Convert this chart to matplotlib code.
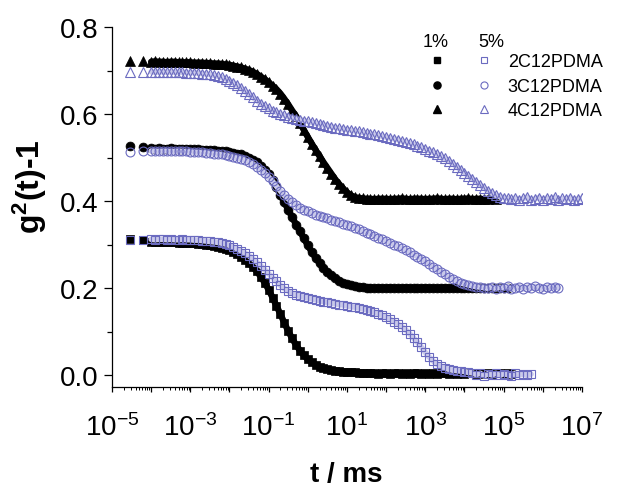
"""
DLS correlation functions g2(t)-1 for 2C12/3C12/4C12PDMA at 1% and 5%.
"""
import numpy as np
import matplotlib
matplotlib.use("Agg")
import matplotlib.pyplot as plt
from matplotlib.lines import Line2D
from matplotlib.ticker import LogLocator, FuncFormatter, MultipleLocator, NullFormatter

plt.rcParams['font.family'] = ['Liberation Sans', 'DejaVu Sans']
plt.rcParams['mathtext.fontset'] = 'custom'
plt.rcParams['mathtext.rm'] = 'Liberation Sans'
plt.rcParams['mathtext.bf'] = 'Liberation Sans:bold'
plt.rcParams['mathtext.it'] = 'Liberation Sans:italic'

# log10(t / ms) of the correlator channels, shared by all curves
LOG_T = [
    -4.54, -4.2,
    -4.0, -3.9, -3.8, -3.7, -3.6, -3.5, -3.4, -3.3, -3.2, -3.1,
    -3.0, -2.9, -2.8, -2.7, -2.6, -2.5, -2.4, -2.3, -2.2, -2.1,
    -2.0, -1.9, -1.8, -1.7, -1.6, -1.5, -1.4, -1.3, -1.2, -1.1,
    -1.0, -0.9, -0.8, -0.7, -0.6, -0.5, -0.4, -0.3, -0.2, -0.1,
    0.0, 0.1, 0.2, 0.3, 0.4, 0.5, 0.6, 0.7, 0.8, 0.9,
    1.0, 1.1, 1.2, 1.3, 1.4, 1.5, 1.6, 1.7, 1.8, 1.9,
    2.0, 2.1, 2.2, 2.3, 2.4, 2.5, 2.6, 2.7, 2.8, 2.9,
    3.0, 3.1, 3.2, 3.3, 3.4, 3.5, 3.6, 3.7, 3.8, 3.9,
    4.0, 4.1, 4.2, 4.3, 4.4, 4.5, 4.6, 4.7, 4.8, 4.9,
    5.0, 5.1, 5.2, 5.3, 5.4, 5.5, 5.6, 5.7, 5.8, 5.9,
    6.0, 6.1, 6.2, 6.3, 6.4, 6.5, 6.6, 6.7, 6.8, 6.9,
    7.0,
]

LABELS = ['2C12PDMA', '3C12PDMA', '4C12PDMA']

# 1 % samples (filled black)
G_2C12_1 = [
    0.313, 0.310,
    0.306, 0.305, 0.306, 0.305, 0.306, 0.305, 0.305, 0.304, 0.304, 0.304,
    0.303, 0.303, 0.302, 0.301, 0.300, 0.299, 0.297, 0.295, 0.293, 0.290,
    0.287, 0.283, 0.278, 0.272, 0.265, 0.257, 0.248, 0.238, 0.226, 0.212,
    0.196, 0.178, 0.159, 0.140, 0.120, 0.101, 0.084, 0.069, 0.056, 0.045,
    0.036, 0.029, 0.024, 0.019, 0.016, 0.013, 0.011, 0.010, 0.009, 0.008,
    0.007, 0.006, 0.006, 0.005, 0.005, 0.004, 0.004, 0.004, 0.003, 0.004,
    0.004, 0.003, 0.004, 0.004, 0.003, 0.004, 0.003, 0.004, 0.004, 0.003,
    0.004, 0.003, 0.004, 0.003, 0.004, 0.004, 0.003, 0.004, 0.003, 0.004,
    0.003, 0.004, 0.004, 0.003, 0.004, 0.003, 0.004, 0.003, 0.004, 0.004,
    0.003, 0.004, 0.003,
]
G_3C12_1 = [
    0.526, 0.525,
    0.521, 0.520, 0.521, 0.520, 0.520, 0.521, 0.520, 0.520, 0.519, 0.520,
    0.519, 0.519, 0.519, 0.518, 0.518, 0.517, 0.517, 0.516, 0.515, 0.514,
    0.513, 0.511, 0.509, 0.507, 0.504, 0.500, 0.495, 0.489, 0.481, 0.472,
    0.462, 0.448, 0.432, 0.414, 0.397, 0.380, 0.363, 0.346, 0.330, 0.314,
    0.298, 0.283, 0.269, 0.257, 0.246, 0.237, 0.229, 0.222, 0.217, 0.212,
    0.209, 0.206, 0.204, 0.203, 0.202, 0.201, 0.201, 0.200, 0.201, 0.200,
    0.200, 0.201, 0.200, 0.199, 0.200, 0.201, 0.200, 0.200, 0.199, 0.200,
    0.201, 0.200, 0.200, 0.199, 0.200, 0.201, 0.200, 0.200, 0.199, 0.200,
    0.200, 0.201, 0.200, 0.199, 0.200, 0.200, 0.201, 0.200, 0.199, 0.200,
    0.200, 0.201,
]
G_4C12_1 = [
    0.722, 0.721,
    0.720, 0.721, 0.720, 0.720, 0.719, 0.720, 0.720, 0.719, 0.719, 0.719,
    0.719, 0.718, 0.718, 0.718, 0.717, 0.717, 0.716, 0.716, 0.715, 0.714,
    0.713, 0.711, 0.709, 0.707, 0.704, 0.701, 0.697, 0.692, 0.686, 0.680,
    0.673, 0.665, 0.657, 0.647, 0.635, 0.622, 0.608, 0.595, 0.580, 0.563,
    0.547, 0.532, 0.517, 0.503, 0.489, 0.476, 0.463, 0.450, 0.439, 0.429,
    0.420, 0.413, 0.409, 0.407, 0.406, 0.405, 0.405, 0.404, 0.405, 0.405,
    0.405, 0.404, 0.405, 0.405, 0.406, 0.405, 0.404, 0.405, 0.405, 0.405,
    0.404, 0.405, 0.405, 0.406, 0.405, 0.404, 0.405, 0.405, 0.404, 0.405,
    0.405, 0.406, 0.404, 0.405, 0.405, 0.404, 0.405, 0.406, 0.405,
]

# 5 % samples (open, blue)
G_2C12_5 = [
    0.311, 0.311,
    0.312, 0.311, 0.312, 0.312, 0.311, 0.312, 0.311, 0.311, 0.312, 0.311,
    0.311, 0.310, 0.310, 0.309, 0.308, 0.307, 0.306, 0.305, 0.303, 0.301,
    0.298, 0.294, 0.290, 0.285, 0.280, 0.274, 0.267, 0.259, 0.251, 0.242,
    0.233, 0.224, 0.215, 0.206, 0.199, 0.193, 0.188, 0.184, 0.181, 0.179,
    0.177, 0.175, 0.173, 0.171, 0.169, 0.167, 0.165, 0.164, 0.162, 0.161,
    0.159, 0.157, 0.156, 0.154, 0.152, 0.150, 0.147, 0.144, 0.141, 0.137,
    0.133, 0.128, 0.123, 0.117, 0.111, 0.104, 0.095, 0.085, 0.075, 0.064,
    0.052, 0.041, 0.032, 0.025, 0.020, 0.016, 0.013, 0.011, 0.010, 0.009,
    0.008, 0.006, 0.005, 0.001, 0.004, -0.002, 0.003, 0.000, 0.004, -0.001,
    0.003, 0.001, -0.002, 0.004, 0.000, 0.003, -0.001, 0.002,
]
G_3C12_5 = [
    0.513, 0.514,
    0.515, 0.515, 0.514, 0.515, 0.515, 0.514, 0.514, 0.515, 0.514, 0.514,
    0.513, 0.513, 0.512, 0.512, 0.511, 0.510, 0.509, 0.508, 0.507, 0.505,
    0.503, 0.501, 0.499, 0.497, 0.494, 0.490, 0.485, 0.479, 0.472, 0.464,
    0.455, 0.445, 0.434, 0.423, 0.413, 0.405, 0.398, 0.391, 0.385, 0.380,
    0.376, 0.372, 0.369, 0.366, 0.363, 0.360, 0.357, 0.354, 0.351, 0.348,
    0.345, 0.342, 0.339, 0.335, 0.331, 0.327, 0.324, 0.320, 0.316, 0.312,
    0.308, 0.304, 0.300, 0.296, 0.291, 0.287, 0.282, 0.277, 0.272, 0.267,
    0.261, 0.255, 0.249, 0.243, 0.237, 0.232, 0.226, 0.221, 0.216, 0.212,
    0.209, 0.207, 0.205, 0.203, 0.202, 0.201, 0.199, 0.203, 0.198, 0.202,
    0.200, 0.204, 0.197, 0.201, 0.203, 0.198, 0.202, 0.199, 0.204, 0.200,
    0.197, 0.202, 0.199, 0.203, 0.200,
]
G_4C12_5 = [
    0.697, 0.697,
    0.697, 0.696, 0.697, 0.697, 0.696, 0.697, 0.696, 0.696, 0.696, 0.695,
    0.695, 0.695, 0.694, 0.693, 0.692, 0.691, 0.689, 0.687, 0.684, 0.681,
    0.677, 0.672, 0.666, 0.659, 0.652, 0.645, 0.638, 0.631, 0.624, 0.618,
    0.613, 0.608, 0.604, 0.600, 0.597, 0.594, 0.591, 0.589, 0.587, 0.585,
    0.583, 0.581, 0.579, 0.577, 0.575, 0.573, 0.571, 0.569, 0.567, 0.566,
    0.564, 0.563, 0.561, 0.560, 0.558, 0.556, 0.554, 0.553, 0.551, 0.549,
    0.547, 0.545, 0.543, 0.541, 0.538, 0.536, 0.533, 0.530, 0.527, 0.524,
    0.520, 0.516, 0.512, 0.508, 0.503, 0.498, 0.492, 0.486, 0.479, 0.472,
    0.465, 0.458, 0.451, 0.444, 0.437, 0.430, 0.424, 0.418, 0.413, 0.410,
    0.408, 0.406, 0.404, 0.407, 0.403, 0.406, 0.409, 0.402, 0.405, 0.408,
    0.403, 0.407, 0.404, 0.409, 0.402, 0.406, 0.404, 0.408, 0.403, 0.405,
    0.406,
]

BLUE = '#6b6bc0'
BAND = '#c9c9ea'
MARKERS = ['s', 'o', '^']
SIZES = [5.6, 6.4, 6.6]


def t_for(g):
    return 10 ** np.array(LOG_T[:len(g)])


def odd_decades(x, pos):
    e = int(round(np.log10(x)))
    if e % 2 == 0:
        return ''
    return r'$\mathdefault{10^{%d}}$' % e


def main():
    fig = plt.figure(figsize=(6.38, 4.89), dpi=100)
    ax = fig.add_axes([0.1755, 0.2065, 0.7367, 0.7362])

    ones = [G_2C12_1, G_3C12_1, G_4C12_1]
    fives = [G_2C12_5, G_3C12_5, G_4C12_5]

    # the correlator channels are so dense that each curve reads as a band
    for g, m, s in zip(ones, MARKERS, SIZES):
        t = t_for(g)
        ax.plot(t[2:], g[2:], color='black', lw=4.6, solid_capstyle='round', zorder=2)
        ax.plot(t, g, ls='none', marker=m, ms=s, color='black', mec='black', mew=0.5, zorder=2)
    for g, m, s in zip(fives, MARKERS, SIZES):
        t = t_for(g)
        ax.plot(t[2:], g[2:], color=BAND, lw=4.0, solid_capstyle='round', zorder=3)
        ax.plot(t, g, ls='none', marker=m, ms=s, mfc='none', mec=BLUE, mew=0.8, zorder=3)

    ax.set_xscale('log')
    ax.set_xlim(1e-5, 1e7)
    ax.set_ylim(-0.0276, 0.8)

    ax.xaxis.set_major_locator(LogLocator(base=10, numticks=20))
    ax.xaxis.set_minor_locator(LogLocator(base=10, subs=np.arange(2, 10), numticks=200))
    ax.xaxis.set_major_formatter(FuncFormatter(odd_decades))
    ax.xaxis.set_minor_formatter(NullFormatter())
    ax.yaxis.set_major_locator(MultipleLocator(0.2))
    ax.yaxis.set_minor_locator(MultipleLocator(0.1))
    ax.yaxis.set_major_formatter(FuncFormatter(lambda v, p: '%.1f' % v))

    for side in ['top', 'right']:
        ax.spines[side].set_visible(False)
    for side in ['left', 'bottom']:
        ax.spines[side].set_linewidth(0.9)

    ax.tick_params(axis='y', which='major', direction='out', length=6, width=0.9,
                   labelsize=20, pad=4)
    ax.tick_params(axis='y', which='minor', direction='out', length=3.5, width=0.9)
    ax.tick_params(axis='x', which='major', direction='out', length=3.5, width=0.9,
                   labelsize=20, pad=15)
    ax.tick_params(axis='x', which='minor', direction='out', length=2, width=0.7)

    ax.set_xlabel('t / ms', fontsize=20, fontweight='bold')
    ax.set_ylabel(r'g$^\mathbf{2}$(t)-1', fontsize=23, fontweight='bold')
    ax.xaxis.set_label_coords(0.498, -0.205)
    ax.yaxis.set_label_coords(-0.135, 0.56)

    # legend: black (1%) column without text, blue (5%) column with names
    handles = [Line2D([], [], ls='none', marker=m, ms=s * 0.8, color='black')
               for m, s in zip(MARKERS, SIZES)]
    handles += [Line2D([], [], ls='none', marker=m, ms=s * 0.8, mfc='none', mec=BLUE, mew=0.8)
                for m, s in zip(MARKERS, SIZES)]
    ax.legend(handles, [''] * 3 + LABELS, ncol=2, loc='upper left',
              bbox_to_anchor=(0.672, 0.927), frameon=False, fontsize=13,
              handlelength=1.0, handletextpad=0.83, columnspacing=0.77,
              labelspacing=0.42, borderpad=0, borderaxespad=0)
    ax.text(0.66, 0.961, '1%', transform=ax.transAxes, fontsize=13, va='center', ha='left')
    ax.text(0.779, 0.961, '5%', transform=ax.transAxes, fontsize=13, va='center', ha='left')

    fig.savefig('out.png', dpi=100)


if __name__ == '__main__':
    main()
